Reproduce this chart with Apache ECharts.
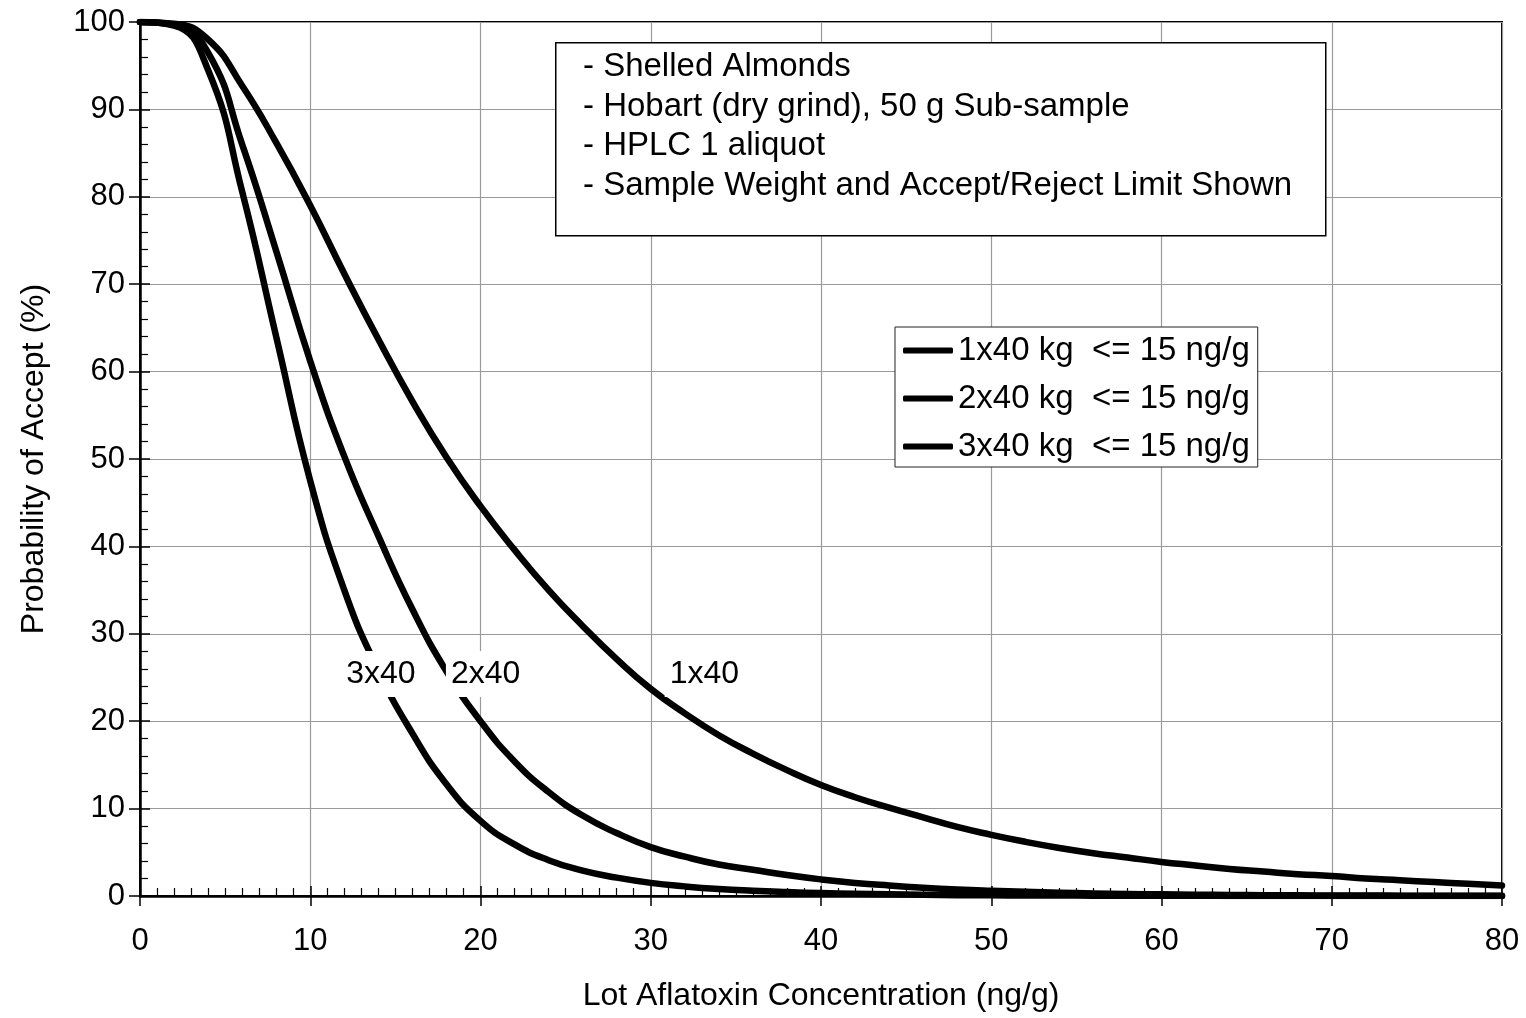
<!DOCTYPE html>
<html>
<head>
<meta charset="utf-8">
<title>Probability of Accept</title>
<script src="https://cdn.jsdelivr.net/npm/echarts@6/dist/echarts.min.js"></script>
<style>
  html, body { margin: 0; padding: 0; background: #fff; }
  #chart { width: 1526px; height: 1018px; }
</style>
</head>
<body>
<div id="chart"></div>
<script>
// lot concentration (ng/g)
var conc = [0, 2, 4, 6, 8, 10, 12, 14, 16, 18, 20, 22, 24, 26, 28, 30, 32, 34, 36, 38, 40,
  42, 44, 46, 48, 50, 52, 54, 56, 58, 60, 62, 64, 66, 68, 70, 72, 74, 76, 78, 80];
// probability of accept (%)
var accept1x40 = [100, 99.8, 98.0, 92.7, 86.2, 79.0, 71.2, 63.7, 56.6, 50.2, 44.6, 39.6, 35.0, 30.9, 27.1, 23.7, 20.9, 18.4, 16.3, 14.4, 12.7,
  11.3, 10.1, 9.0, 7.9, 7.0, 6.2, 5.5, 4.9, 4.4, 3.9, 3.5, 3.1, 2.8, 2.5, 2.3, 2.0, 1.8, 1.6, 1.4, 1.2];
var accept2x40 = [100, 99.7, 96.5, 86.0, 73.8, 61.2, 50.3, 41.2, 32.8, 25.7, 20.0, 15.4, 11.9, 9.2, 7.2, 5.6, 4.5, 3.6, 3.0, 2.4, 1.9,
  1.5, 1.2, 0.95, 0.75, 0.6, 0.48, 0.38, 0.3, 0.24, 0.19, 0.15, 0.12, 0.1, 0.08, 0.06, 0.05, 0.04, 0.03, 0.03, 0.02];
var accept3x40 = [100, 99.6, 94.5, 80.6, 64.0, 47.5, 35.0, 25.8, 18.6, 12.8, 8.6, 5.9, 4.1, 2.9, 2.1, 1.5, 1.1, 0.8, 0.6, 0.45, 0.33,
  0.25, 0.19, 0.14, 0.1, 0.08, 0.06, 0.05, 0.04, 0.03, 0.02, 0.02, 0.01, 0.01, 0.01, 0.01, 0.01, 0.01, 0.01, 0.01, 0.01];

var seriesNames = ['1x40 kg  <= 15 ng/g', '2x40 kg  <= 15 ng/g', '3x40 kg  <= 15 ng/g'];
var curveLabels = ['1x40', '2x40', '3x40'];
var labelX = [33.15, 20.3, 14.15];
var labelY = [25.4, 25.4, 25.4];

var noteLines = [
  '- Shelled Almonds',
  '- Hobart (dry grind), 50 g Sub-sample',
  '- HPLC 1 aliquot',
  '- Sample Weight and Accept/Reject Limit Shown'
];

var xTitle = 'Lot Aflatoxin Concentration (ng/g)';
var yTitle = 'Probability of Accept (%)';

function pairs(xs, ys) {
  var out = [];
  for (var i = 0; i < xs.length; i++) {
    out.push([xs[i], ys[i]]);
  }
  return out;
}

var font = '"Liberation Sans", Arial, sans-serif';
var myChart = echarts.init(document.getElementById('chart'));

var curveStyle = { color: '#000', width: 6.5, cap: 'round', join: 'round' };
var allCurves = [accept1x40, accept2x40, accept3x40];
var series = [];
for (var s = 0; s < 3; s++) {
  series.push({
    name: seriesNames[s],
    type: 'line',
    xAxisIndex: 0,
    yAxisIndex: 0,
    data: pairs(conc, allCurves[s]),
    symbol: 'none',
    smooth: 0.5,
    color: '#000',
    lineStyle: curveStyle,
    z: 3
  });
}

// in-plot curve labels on white boxes
var labelData = [];
for (var k = 0; k < curveLabels.length; k++) {
  labelData.push({ value: [labelX[k], labelY[k]], name: curveLabels[k] });
}
series.push({
  type: 'scatter',
  xAxisIndex: 0,
  yAxisIndex: 0,
  data: labelData,
  symbolSize: 1,
  itemStyle: { color: 'transparent', opacity: 1 },
  z: 5,
  label: {
    show: true,
    position: 'inside',
    formatter: '{b}',
    color: '#000',
    opacity: 1,
    fontSize: 32,
    fontFamily: font,
    textBorderWidth: 0,
    backgroundColor: '#fff',
    padding: [7, 5, 7, 5]
  },
  emphasis: { disabled: true },
  silent: true
});

var option = {
  animation: false,
  backgroundColor: '#fff',
  textStyle: { fontFamily: font },
  grid: {
    left: 140,
    right: 24,
    top: 22,
    bottom: 122,
    show: true,
    borderColor: '#000',
    borderWidth: 2,
    backgroundColor: 'transparent'
  },
  legend: {
    orient: 'vertical',
    left: 895,
    top: 327,
    data: seriesNames,
    icon: 'roundRect',
    itemWidth: 50,
    itemHeight: 6,
    itemGap: 15,
    padding: [7, 8, 4, 8],
    backgroundColor: '#fff',
    borderColor: '#222',
    borderWidth: 1,
    itemStyle: { color: '#000' },
    textStyle: { fontSize: 33, color: '#000', fontFamily: font },
    selectedMode: false
  },
  xAxis: [
    {
      type: 'value',
      min: 0,
      max: 80,
      interval: 10,
      name: xTitle,
      nameLocation: 'middle',
      nameGap: 84,
      nameTextStyle: { fontSize: 32, color: '#000', fontFamily: font },
      axisLine: { show: true, onZero: false, lineStyle: { color: '#000', width: 2.5 } },
      axisTick: { show: true, inside: false, length: 10, lineStyle: { color: '#000', width: 1.5 } },
      axisLabel: { margin: 30, fontSize: 31, color: '#000', fontFamily: font },
      splitLine: { show: true, lineStyle: { color: '#9a9a9a', width: 1.2 } }
    },
    {
      type: 'value',
      min: 0,
      max: 80,
      interval: 10,
      position: 'bottom',
      axisLine: { show: false },
      axisTick: { show: true, inside: true, length: 10, lineStyle: { color: '#000', width: 1.5 } },
      minorTick: { show: true, splitNumber: 10, length: 8, lineStyle: { color: '#000', width: 1.2 } },
      axisLabel: { show: false },
      splitLine: { show: false }
    }
  ],
  yAxis: [
    {
      type: 'value',
      min: 0,
      max: 100,
      interval: 10,
      name: yTitle,
      nameLocation: 'middle',
      nameGap: 90,
      nameRotate: 90,
      nameTextStyle: { fontSize: 32, color: '#000', fontFamily: font },
      axisLine: { show: true, onZero: false, lineStyle: { color: '#000', width: 2.5 } },
      axisTick: { show: true, inside: false, length: 11, lineStyle: { color: '#000', width: 1.5 } },
      axisLabel: { margin: 15, fontSize: 31, color: '#000', fontFamily: font },
      splitLine: { show: true, lineStyle: { color: '#9a9a9a', width: 1.2 } }
    },
    {
      type: 'value',
      min: 0,
      max: 100,
      interval: 10,
      position: 'left',
      axisLine: { show: false },
      axisTick: { show: true, inside: true, length: 10, lineStyle: { color: '#000', width: 1.5 } },
      minorTick: { show: true, splitNumber: 5, length: 8, lineStyle: { color: '#000', width: 1.2 } },
      axisLabel: { show: false },
      splitLine: { show: false }
    }
  ],
  graphic: [
    {
      type: 'rect',
      left: 555,
      top: 42,
      z: 10,
      shape: { width: 770, height: 193 },
      style: { fill: '#fff', stroke: '#000', lineWidth: 1.5 }
    },
    {
      type: 'text',
      left: 583,
      top: 47,
      z: 11,
      style: {
        text: noteLines.join('\n'),
        font: '33px ' + font,
        lineHeight: 39.7,
        fill: '#000'
      }
    }
  ],
  series: series
};

myChart.setOption(option);
window.addEventListener('resize', function () {
  myChart.resize();
});
</script>
</body>
</html>
